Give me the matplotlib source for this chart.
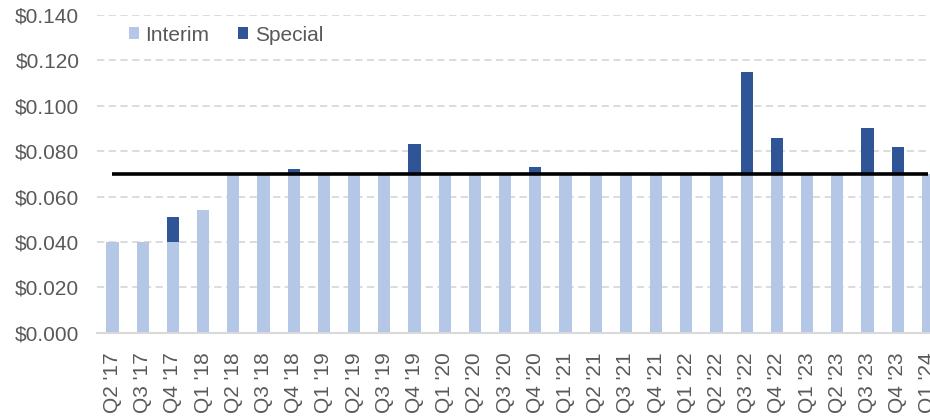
import numpy as np
import matplotlib.pyplot as plt
from matplotlib.ticker import FuncFormatter

plt.rcParams['font.family'] = ['Liberation Sans', 'DejaVu Sans']

quarters = ["Q2 '17", "Q3 '17", "Q4 '17",
            "Q1 '18", "Q2 '18", "Q3 '18", "Q4 '18",
            "Q1 '19", "Q2 '19", "Q3 '19", "Q4 '19",
            "Q1 '20", "Q2 '20", "Q3 '20", "Q4 '20",
            "Q1 '21", "Q2 '21", "Q3 '21", "Q4 '21",
            "Q1 '22", "Q2 '22", "Q3 '22", "Q4 '22",
            "Q1 '23", "Q2 '23", "Q3 '23", "Q4 '23",
            "Q1 '24"]
interim = [0.040, 0.040, 0.040,
           0.054, 0.070, 0.070, 0.070,
           0.070, 0.070, 0.070, 0.070,
           0.070, 0.070, 0.070, 0.070,
           0.070, 0.070, 0.070, 0.070,
           0.070, 0.070, 0.070, 0.070,
           0.070, 0.070, 0.070, 0.070,
           0.070]
special = [0.000, 0.000, 0.011,
           0.000, 0.000, 0.000, 0.002,
           0.000, 0.000, 0.000, 0.013,
           0.000, 0.000, 0.000, 0.003,
           0.000, 0.000, 0.000, 0.000,
           0.000, 0.000, 0.045, 0.016,
           0.000, 0.000, 0.020, 0.012,
           0.000]
baseline = 0.070

x = np.arange(len(quarters))

fig = plt.figure(figsize=(9.3, 4.18), dpi=100)
ax = fig.add_axes([97.4 / 930, 85.3 / 418, 1 - 97.4 / 930, 317.7 / 418])

ax.bar(x, interim, width=0.4, color='#B4C7E7', label='Interim', zorder=2)
ax.bar(x, special, width=0.4, bottom=interim, color='#2F5597', label='Special', zorder=2)
ax.plot(x, [baseline] * len(x), color='black', linewidth=2.6, zorder=3,
        solid_capstyle='butt')

ax.set_ylim(0, 0.14)
ax.set_xlim(-0.5, 27.07)
ax.set_yticks(np.arange(0, 0.141, 0.02))
ax.yaxis.set_major_formatter(FuncFormatter(lambda v, p: f'${v:.3f}'))
ax.set_xticks(x)
ax.set_xticklabels(quarters, rotation=90)

ax.grid(axis='y', color='#D9D9D9', linestyle=(0, (4, 2.5)), linewidth=1.3, zorder=0)
for s in ['top', 'right', 'left']:
    ax.spines[s].set_visible(False)
ax.spines['bottom'].set_color('#D9D9D9')
ax.spines['bottom'].set_linewidth(1.5)
ax.tick_params(axis='both', length=0, labelsize=15, colors='#595959')
ax.tick_params(axis='y', pad=13)
ax.tick_params(axis='x', pad=14)

ax.legend(loc='center left', bbox_to_anchor=(0.038, 0.937), ncol=2, frameon=False,
          fontsize=15, handlelength=0.48, handleheight=0.48, handletextpad=0.3,
          columnspacing=1.4, borderpad=0, borderaxespad=0, labelcolor='#595959')

fig.savefig('out.png', dpi=100)
